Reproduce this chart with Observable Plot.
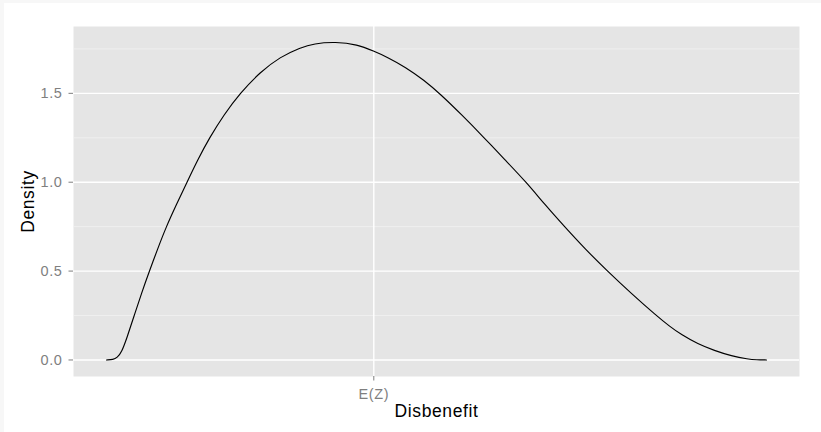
<!DOCTYPE html>
<html><head><meta charset="utf-8">
<script src="https://cdn.jsdelivr.net/npm/d3@7"></script>
<script src="https://cdn.jsdelivr.net/npm/@observablehq/plot@0.6"></script>
<style>
html,body{margin:0;padding:0;background:#f7f7f7;}
#chart{position:absolute;left:4px;top:3px;width:817px;height:429px;background:#fff;}
#chart svg text{letter-spacing:0.6px;}
</style></head><body><div id="chart"></div>
<script>
// Disbenefit (rescaled 0..1) and density
const xValues = [0, 0.010, 0.016, 0.023, 0.031, 0.042, 0.053, 0.065, 0.077, 0.090, 0.106, 0.122, 0.138, 0.156, 0.178, 0.202, 0.233, 0.263, 0.294, 0.314, 0.347, 0.380, 0.405, 0.426, 0.453, 0.481, 0.506, 0.538, 0.571, 0.604, 0.636, 0.664, 0.694, 0.725, 0.759, 0.795, 0.833, 0.853, 0.871, 0.896, 0.921, 0.947, 0.972, 0.985, 1.0];
const densityValues = [0, 0.002, 0.012, 0.044, 0.125, 0.25, 0.375, 0.5, 0.62, 0.745, 0.875, 1.0, 1.125, 1.25, 1.38, 1.5, 1.62, 1.705, 1.757, 1.78, 1.79, 1.775, 1.737, 1.703, 1.647, 1.575, 1.495, 1.38, 1.255, 1.125, 1.0, 0.875, 0.75, 0.625, 0.5, 0.375, 0.25, 0.19, 0.142, 0.09, 0.053, 0.022, 0.005, 0.001, 0];
const yTicks = [0, 0.5, 1.0, 1.5];
const yMinorTicks = [0.25, 0.75, 1.25, 1.75];
const xTickValues = [0.405];
const xTickLabels = ["E(Z)"];
const xTitle = "Disbenefit";
const yTitle = "Density";

const data = xValues.map((x, i) => ({x, y: densityValues[i]}));

const plot = Plot.plot({
  width: 817, height: 429,
  marginLeft: 69, marginRight: 22, marginTop: 23, marginBottom: 56,
  style: {fontFamily: "Liberation Sans, Arial, Helvetica, sans-serif", fontSize: "14.5px", background: "#fff", overflow: "visible"},
  x: {domain: [-0.05, 1.05]},
  y: {domain: [-0.093, 1.876]},
  marks: [
    Plot.frame({fill: "#e5e5e5", stroke: null}),
    Plot.gridY(yMinorTicks, {stroke: "#f2f2f2", strokeOpacity: 1, strokeWidth: 0.8}),
    Plot.gridY(yTicks, {stroke: "#ffffff", strokeOpacity: 1, strokeWidth: 1.4}),
    Plot.gridX(xTickValues, {stroke: "#ffffff", strokeOpacity: 1, strokeWidth: 1.4}),
    Plot.axisY(yTicks, {tickFormat: d => d.toFixed(1), tickSize: 4.5, tickPadding: 6.5, stroke: "#7f7f7f", fill: "#7f7f7f", label: null, fontSize: 14.5}),
    Plot.axisX(xTickValues, {tickFormat: (d, i) => xTickLabels[i], tickSize: 4.5, tickPadding: 7.5, stroke: "#7f7f7f", fill: "#7f7f7f", label: null, fontSize: 14.5}),
    Plot.line(data, {x: "x", y: "y", stroke: "#000", strokeWidth: 1.15, curve: "basis"}),
    Plot.text([xTitle], {frameAnchor: "bottom", textAnchor: "middle", lineAnchor: "bottom", dy: 40, fill: "#000", fontSize: 17.5, text: d => d}),
    Plot.text([yTitle], {frameAnchor: "left", textAnchor: "middle", lineAnchor: "middle", dx: -45, rotate: -90, fill: "#000", fontSize: 17.5, text: d => d})
  ]
});
document.getElementById("chart").appendChild(plot);
</script></body></html>
